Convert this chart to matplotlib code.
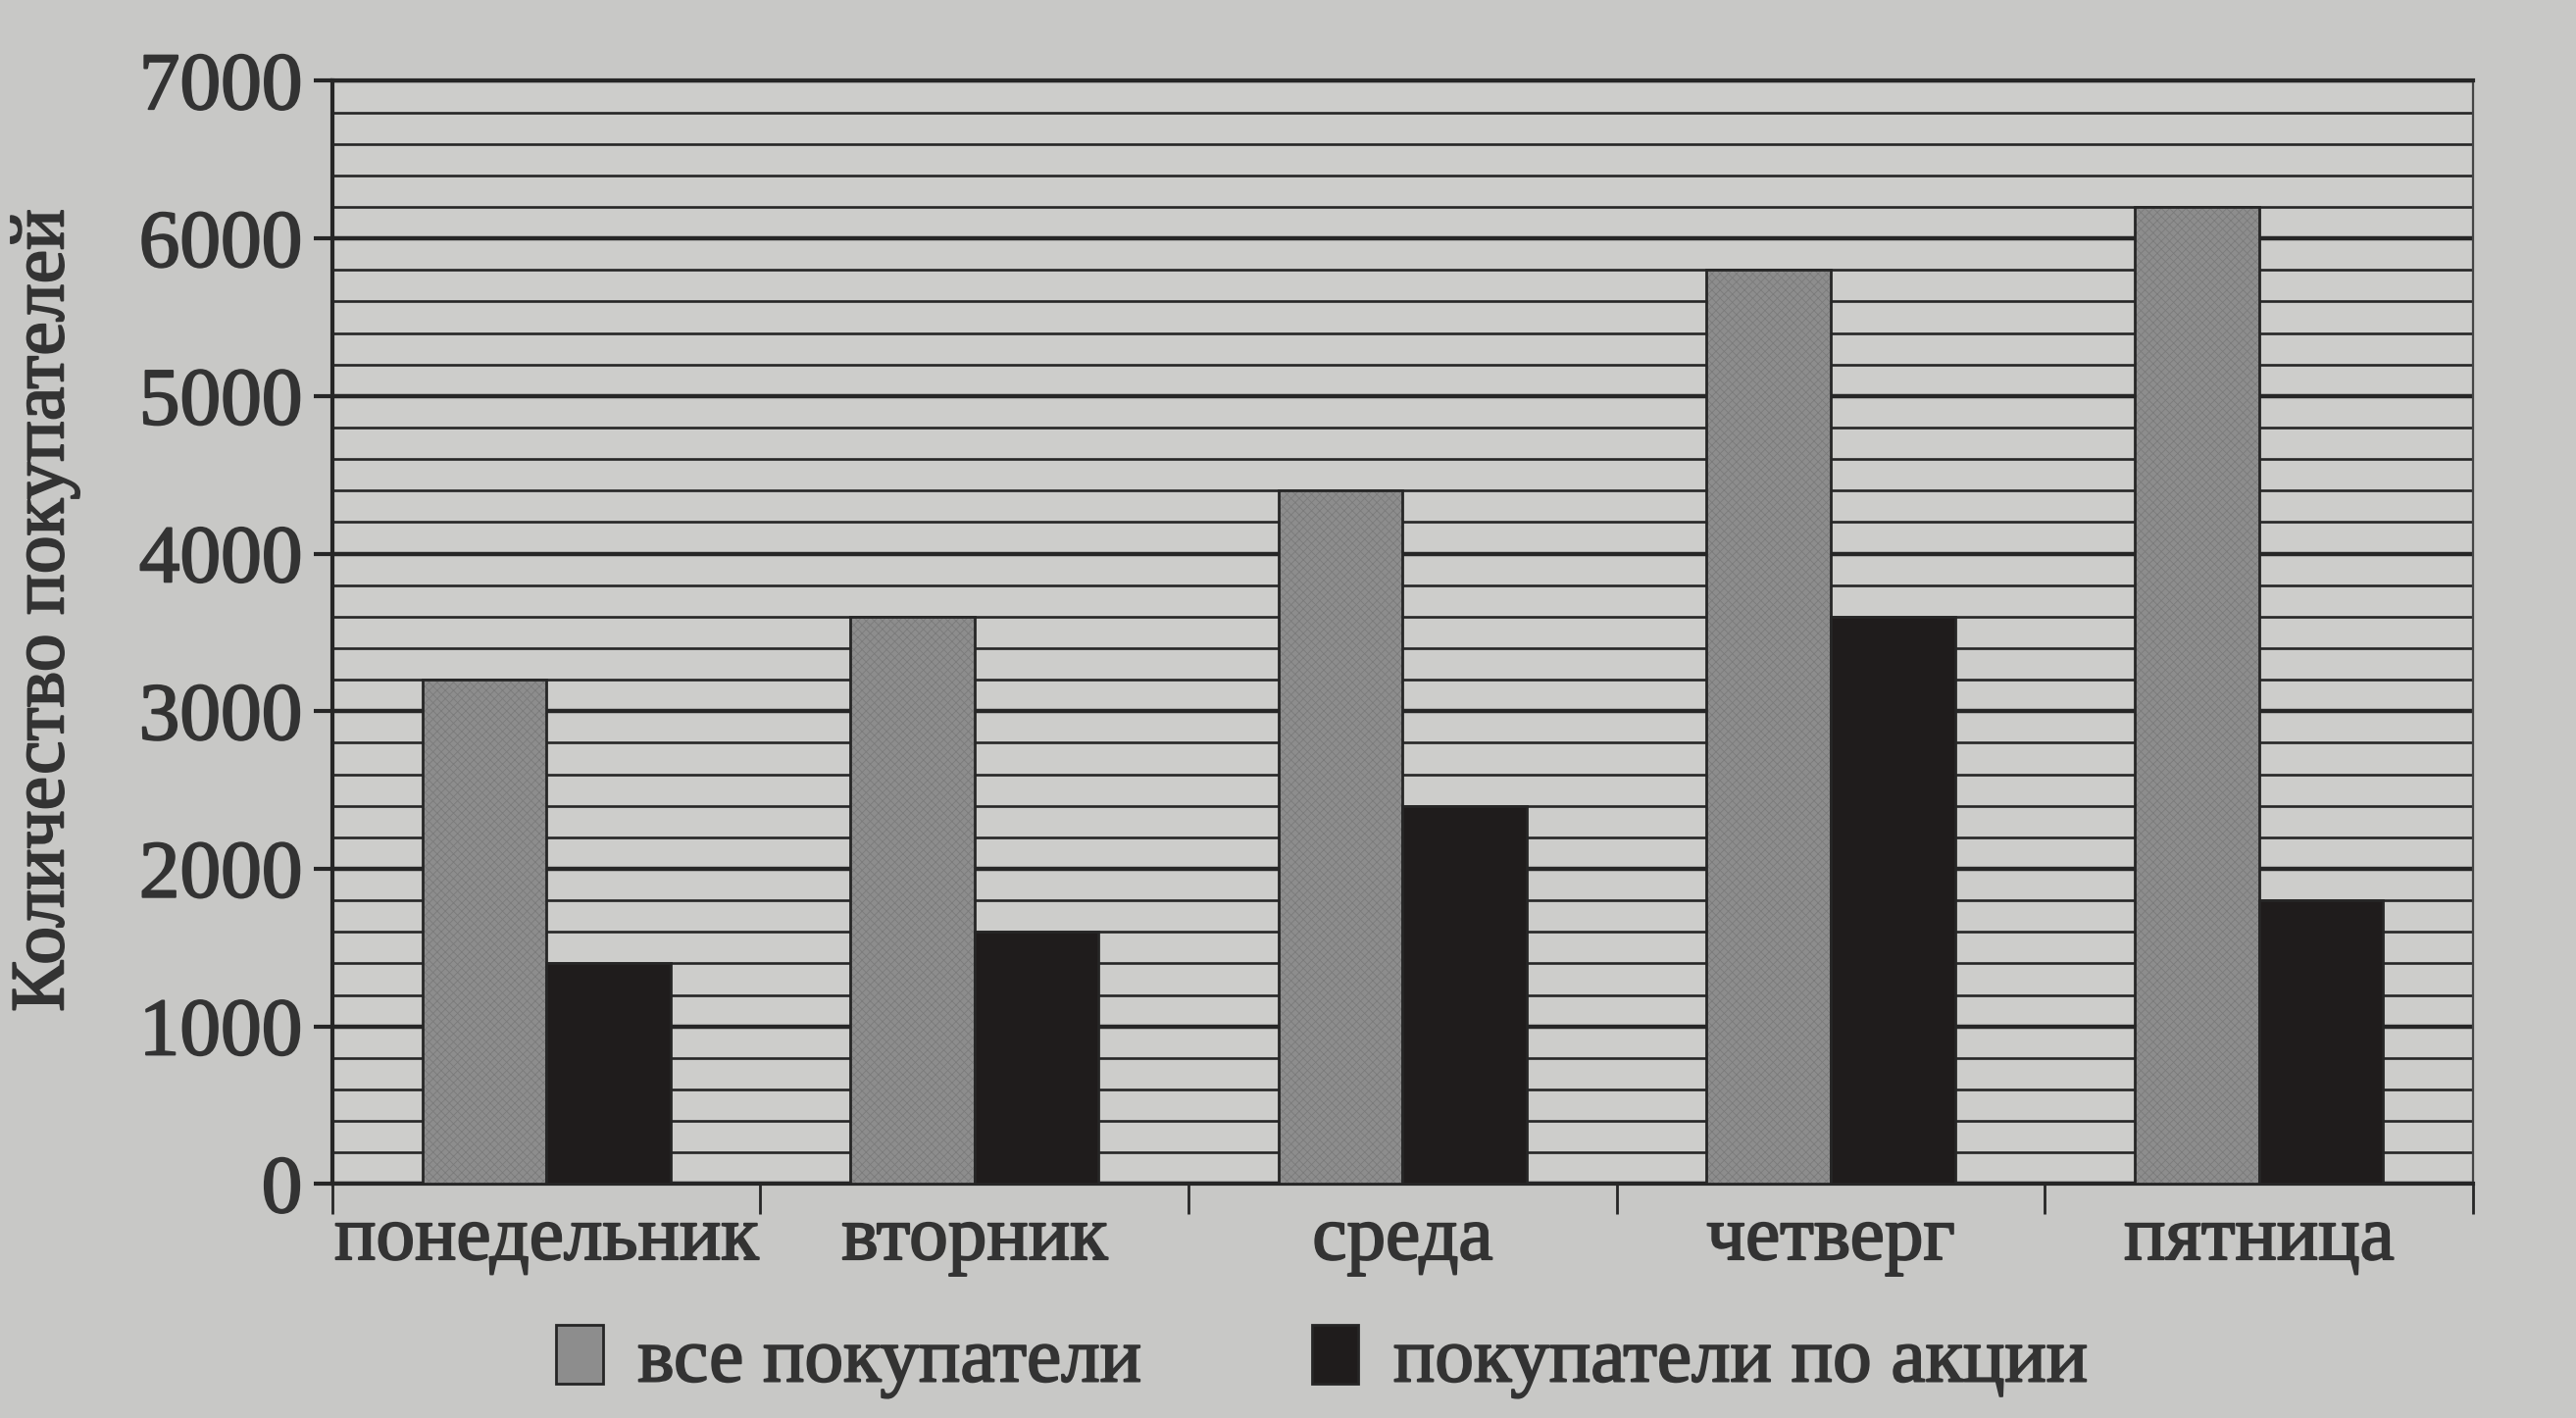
import matplotlib.pyplot as plt
import matplotlib.patheffects as pe
from matplotlib.patches import Patch
import numpy as np

days = ['понедельник', 'вторник', 'среда', 'четверг', 'пятница']
all_buyers = [3200, 3600, 4400, 5800, 6200]
promo_buyers = [1400, 1600, 2400, 3600, 1800]
series_names = ['все покупатели', 'покупатели по акции']
y_major = list(range(0, 7001, 1000))
y_minor = list(range(0, 7001, 200))

plt.rcParams['font.family'] = ['Liberation Serif', 'DejaVu Serif']
plt.rcParams['hatch.linewidth'] = 0.6

paper = '#c8c8c6'
ink = '#262626'
gray_bar = '#8d8d8d'
dark_bar = '#1f1c1c'
text_col = '#333333'
# printed text looks a bit heavier than plain Times
heavy = [pe.withStroke(linewidth=1.4, foreground=text_col)]

fig = plt.figure(figsize=(26.27, 14.46), dpi=100, facecolor=paper)
ax = fig.add_axes([0.129, 0.165, 0.831, 0.778])
ax.set_facecolor('#cdcdcb')

x = np.arange(len(days))
w = 0.29
# gray bars with a faint texture, then the outline on top
ax.bar(x - w/2, all_buyers, w, color=gray_bar, edgecolor='#7b7b7b', hatch='xxxx', linewidth=0, zorder=3)
ax.bar(x - w/2, all_buyers, w, fill=False, edgecolor=ink, linewidth=2, zorder=4)
ax.bar(x + w/2, promo_buyers, w, color=dark_bar, edgecolor=ink, linewidth=2, zorder=4)

ax.set_xlim(-0.5, len(days) - 0.5)
ax.set_ylim(0, 7000)
ax.set_yticks(y_major)
ax.set_yticks(y_minor, minor=True)
ax.grid(which='major', axis='y', color=ink, linewidth=3.2, zorder=1)
ax.grid(which='minor', axis='y', color=ink, linewidth=1.9, zorder=1)
ax.set_axisbelow(True)

ax.tick_params(axis='y', which='major', direction='out', length=14, width=3, color=ink,
               labelsize=60, labelcolor=text_col, pad=8)
ax.tick_params(axis='y', which='minor', length=0)

# boundaries get the tick marks, labels sit in the middle of each group
ax.set_xticks(np.arange(-0.5, len(days), 1.0))
ax.set_xticklabels([])
ax.set_xticks(x, minor=True)
ax.set_xticklabels(days, minor=True)
ax.tick_params(axis='x', which='major', direction='out', length=22, width=2, color=ink)
ax.tick_params(axis='x', which='minor', length=0, labelsize=57, labelcolor=text_col, pad=16)

for lab in ax.get_yticklabels() + ax.get_xticklabels(minor=True):
    lab.set_path_effects(heavy)

for side in ['left', 'bottom', 'top']:
    ax.spines[side].set_linewidth(3)
    ax.spines[side].set_color(ink)
ax.spines['right'].set_linewidth(1.6)
ax.spines['right'].set_color('#444444')

ax.set_ylabel('Количество покупателей', fontsize=56, color=text_col, path_effects=heavy)
ax.yaxis.set_label_coords(-0.118, 0.52)

handles = [Patch(facecolor=gray_bar, edgecolor=ink, linewidth=2),
           Patch(facecolor=dark_bar, edgecolor=ink, linewidth=2)]
leg = fig.legend(handles, series_names, loc='center', bbox_to_anchor=(0.513, 0.040), ncol=2,
                 frameon=False, fontsize=57, handlelength=0.6, handleheight=0.8,
                 handletextpad=0.45, columnspacing=2.2)
for t in leg.get_texts():
    t.set_color(text_col)
    t.set_path_effects(heavy)

fig.savefig('out.png', dpi=100, facecolor=paper)
